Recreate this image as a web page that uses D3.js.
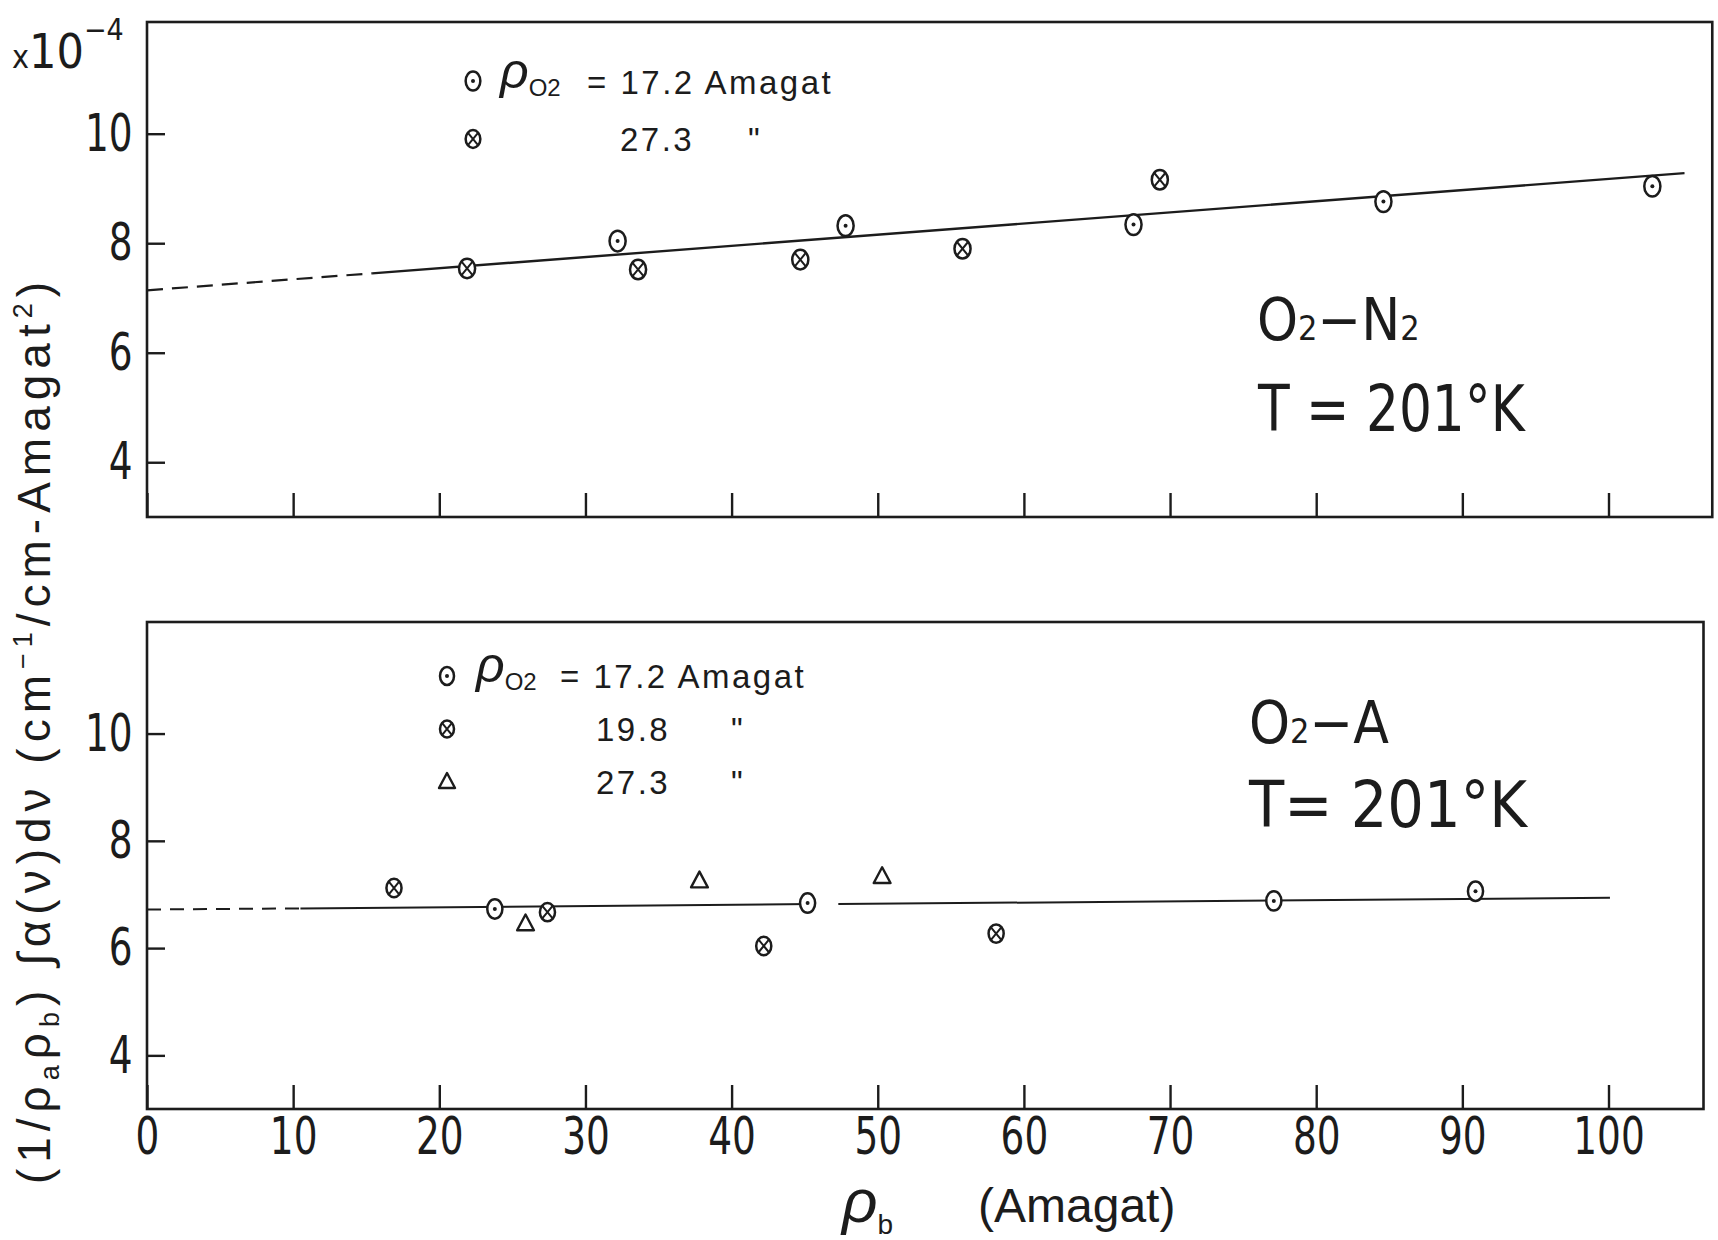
<!DOCTYPE html>
<html>
<head>
<meta charset="utf-8">
<script src="https://cdn.jsdelivr.net/npm/d3@7"></script>
<style>
  body { margin: 0; background: #fff; }
  svg { display: block; }
  .axis path.domain { display: none; }
  .axis line { stroke: #1c1c1c; stroke-width: 2.4; }
  .axis text { fill: #1c1c1c; font-family: "Liberation Sans Narrow", "DejaVu Sans Condensed", "Liberation Sans", sans-serif; font-size: 52px; }
</style>
</head>
<body>
<div id="chart"></div>
<script>
// Axis ticks
const xTickValues = [0, 10, 20, 30, 40, 50, 60, 70, 80, 90, 100];
const yTickValues = [4, 6, 8, 10];

// Upper panel: O2-N2, T = 201 K
const n2Rho172X = [32.2, 47.8, 67.5, 84.6, 103.0];
const n2Rho172Y = [8.04, 8.32, 8.34, 8.76, 9.04];
const n2Rho273X = [21.9, 33.6, 44.7, 55.8, 69.3];
const n2Rho273Y = [7.54, 7.52, 7.70, 7.90, 9.16];
const n2FitDashed = [[0, 7.14], [15.4, 7.45]];
const n2FitSolid = [[15.4, 7.45], [105.2, 9.28]];

// Lower panel: O2-A, T = 201 K
const arRho172X = [23.8, 45.2, 77.1, 90.9];
const arRho172Y = [6.73, 6.84, 6.88, 7.06];
const arRho198X = [16.9, 27.4, 42.2, 58.1];
const arRho198Y = [7.12, 6.67, 6.04, 6.27];
const arRho273X = [25.9, 37.8, 50.3];
const arRho273Y = [6.47, 7.27, 7.35];
const arFitDashed = [[0, 6.72], [10.5, 6.74]];
const arFitSolid1 = [[10.5, 6.74], [45.5, 6.82]];
const arFitSolid2 = [[47.3, 6.82], [100.1, 6.94]];

const INK = "#1c1c1c";
const NARROW = '"Liberation Sans Narrow", "DejaVu Sans Condensed", "Liberation Sans", sans-serif';
const SANS = '"Liberation Sans", "DejaVu Sans", sans-serif';

const W = 1718, H = 1240;

const svg = d3.select("#chart")
    .append("svg")
    .attr("width", W)
    .attr("height", H);

// Shared x scale
const x = d3.scaleLinear().domain([0, 100]).range([147, 1608.5]);

// Y scales for both panels
const yTop = d3.scaleLinear().domain([3, 12.04]).range([517, 22]);
const yBot = d3.scaleLinear().domain([3, 12.08]).range([1109, 622]);

const line = (ys) => d3.line().x(d => x(d[0])).y(d => ys(d[1]));

// Marker drawing
function dotCircle(g, px, py, s) {
    g.append("ellipse").attr("cx", px).attr("cy", py).attr("rx", 7 * s).attr("ry", 9 * s)
        .attr("fill", "#fff").attr("stroke", INK).attr("stroke-width", 2.5);
    g.append("circle").attr("cx", px).attr("cy", py).attr("r", 2).attr("fill", INK);
}
function crossCircle(g, px, py, s) {
    g.append("ellipse").attr("cx", px).attr("cy", py).attr("rx", 7 * s).attr("ry", 8.5 * s)
        .attr("fill", "#fff").attr("stroke", INK).attr("stroke-width", 2.5);
    g.append("path")
        .attr("d", `M${px - 4.6 * s},${py - 5.6 * s}L${px + 4.6 * s},${py + 5.6 * s}M${px - 4.6 * s},${py + 5.6 * s}L${px + 4.6 * s},${py - 5.6 * s}`)
        .attr("stroke", INK).attr("stroke-width", 2).attr("fill", "none");
}
function triangle(g, px, py, s) {
    g.append("path")
        .attr("d", `M${px},${py - 8 * s}L${px + 8 * s},${py + 7 * s}L${px - 8 * s},${py + 7 * s}Z`)
        .attr("fill", "none").attr("stroke", INK).attr("stroke-width", 2.4).attr("stroke-linejoin", "round");
}

function panel(ys, xMax, showLabels) {
    const g = svg.append("g");
    const y0 = ys.range()[0], y1 = ys.range()[1];

    // frame
    g.append("rect")
        .attr("x", x(0)).attr("y", y1)
        .attr("width", x(xMax) - x(0)).attr("height", y0 - y1)
        .attr("fill", "none").attr("stroke", INK).attr("stroke-width", 2.6);

    // x axis, ticks pointing inward
    const xa = d3.axisBottom(x)
        .tickValues(xTickValues)
        .tickSizeInner(-24).tickSizeOuter(0)
        .tickPadding(8)
        .tickFormat(showLabels ? d3.format("d") : () => "");
    g.append("g")
        .attr("class", "axis")
        .attr("transform", `translate(0,${y0})`)
        .call(xa)
        .selectAll("text").attr("transform", "scale(0.8,1)");

    // y axis, ticks pointing inward
    g.append("g")
        .attr("class", "axis")
        .attr("transform", `translate(${x(0)},0)`)
        .call(d3.axisLeft(ys).tickValues(yTickValues).tickSizeInner(-18).tickSizeOuter(0).tickPadding(18))
        .selectAll("text").attr("transform", "scale(0.8,1)");

    return g;
}

// ---------- upper panel ----------
const gTop = panel(yTop, 107.1, false);

gTop.append("path").datum(n2FitDashed)
    .attr("d", line(yTop)).attr("fill", "none").attr("stroke", INK)
    .attr("stroke-width", 2.2).attr("stroke-dasharray", "16 9");
gTop.append("path").datum(n2FitSolid)
    .attr("d", line(yTop)).attr("fill", "none").attr("stroke", INK).attr("stroke-width", 2.4);

n2Rho172X.forEach((v, i) => dotCircle(gTop, x(v), yTop(n2Rho172Y[i]), 1.15));
n2Rho273X.forEach((v, i) => crossCircle(gTop, x(v), yTop(n2Rho273Y[i]), 1.15));

// ---------- lower panel ----------
const gBot = panel(yBot, 106.5, true);

gBot.append("path").datum(arFitDashed)
    .attr("d", line(yBot)).attr("fill", "none").attr("stroke", INK)
    .attr("stroke-width", 2).attr("stroke-dasharray", "14 9");
[arFitSolid1, arFitSolid2].forEach(seg => {
    gBot.append("path").datum(seg)
        .attr("d", line(yBot)).attr("fill", "none").attr("stroke", INK).attr("stroke-width", 2);
});

arRho172X.forEach((v, i) => dotCircle(gBot, x(v), yBot(arRho172Y[i]), 1.08));
arRho198X.forEach((v, i) => crossCircle(gBot, x(v), yBot(arRho198Y[i]), 1.08));
arRho273X.forEach((v, i) => triangle(gBot, x(v), yBot(arRho273Y[i]), 1.05));

// ---------- legends ----------
function rhoO2(px, baseline) {
    const t = svg.append("text").attr("x", px).attr("y", baseline)
        .attr("fill", INK).style("font-family", SANS);
    t.append("tspan").text("ρ").style("font-size", "50px").style("font-style", "italic");
    t.append("tspan").text("O2").attr("dy", 8).style("font-size", "24px");
}
function legendText(px, baseline, str) {
    svg.append("text").attr("x", px).attr("y", baseline).attr("fill", INK)
        .style("font-family", SANS).style("font-size", "33px").style("letter-spacing", "2.5px")
        .text(str);
}

// upper legend
dotCircle(svg, 473, 81, 1.05);
rhoO2(500, 88);
legendText(587, 94, "= 17.2 Amagat");
crossCircle(svg, 473, 139, 1.05);
legendText(620, 151, "27.3");
legendText(748, 151, "\"");

// lower legend
dotCircle(svg, 447, 676, 1);
rhoO2(476, 682);
legendText(560, 688, "= 17.2 Amagat");
crossCircle(svg, 447, 729, 1);
legendText(596, 741, "19.8");
legendText(731, 741, "\"");
triangle(svg, 447, 781, 1);
legendText(596, 794, "27.3");
legendText(731, 794, "\"");

// ---------- panel annotations ----------
function species(px, baseline, a, b) {
    const t = svg.append("text").attr("x", px).attr("y", baseline).attr("fill", INK)
        .style("font-family", NARROW).style("font-size", "58px");
    t.append("tspan").text("O");
    t.append("tspan").text("2").style("font-size", "34px");
    t.append("tspan").text("−" + a);
    if (b) t.append("tspan").text(b).style("font-size", "34px");
}
function temp(px, baseline, str, sx) {
    svg.append("text").attr("transform", `translate(${px},${baseline}) scale(${sx},1)`)
        .attr("fill", INK)
        .style("font-family", NARROW).style("font-size", "64px").text(str);
}
species(1257, 340, "N", "2");
temp(1258, 431, "T = 201°K", 0.9);
species(1249, 743, "A", null);
temp(1249, 827, "T= 201°K", 1);

// ---------- axis titles ----------
const mult = svg.append("text").attr("x", 12).attr("y", 68).attr("fill", INK)
    .style("font-family", NARROW).style("font-size", "48px");
mult.append("tspan").text("x").style("font-size", "32px");
mult.append("tspan").text("10");
mult.append("tspan").text("−4").attr("dy", -28).style("font-size", "30px");

const xt = svg.append("text").attr("x", 842).attr("y", 1222).attr("fill", INK)
    .style("font-family", SANS).style("font-size", "48px");
xt.append("tspan").text("ρ").style("font-style", "italic").style("font-size", "62px");
xt.append("tspan").text("b").attr("dy", 12).style("font-size", "28px");
xt.append("tspan").text("(Amagat)").attr("x", 978).attr("dy", -12);

const yt = svg.append("text")
    .attr("transform", "translate(50,730) rotate(-90)")
    .attr("text-anchor", "middle")
    .attr("fill", INK)
    .style("font-family", SANS).style("font-size", "46px").style("letter-spacing", "6px");
yt.append("tspan").text("(1/ρ");
yt.append("tspan").text("a").attr("dy", 9).style("font-size", "27px");
yt.append("tspan").text("ρ").attr("dy", -9);
yt.append("tspan").text("b").attr("dy", 9).style("font-size", "27px");
yt.append("tspan").text(") ∫α(ν)dν (cm").attr("dy", -9);
yt.append("tspan").text("−1").attr("dy", -18).style("font-size", "27px");
yt.append("tspan").text("/cm-Amagat").attr("dy", 18);
yt.append("tspan").text("2").attr("dy", -18).style("font-size", "27px");
yt.append("tspan").text(")").attr("dy", 18);
</script>
</body>
</html>
